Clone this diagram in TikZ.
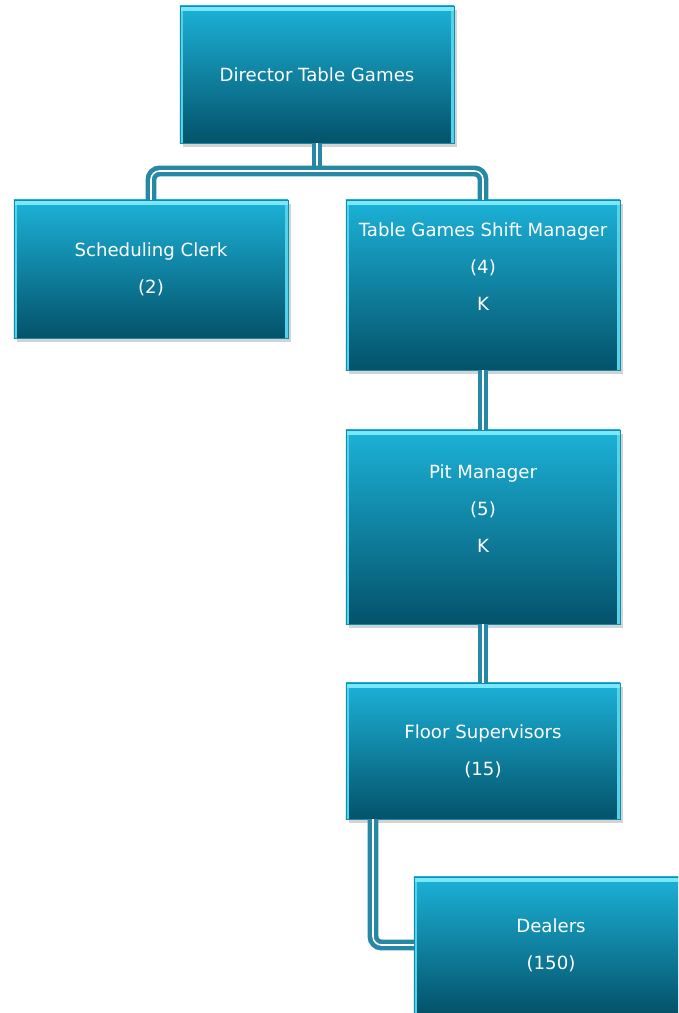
\documentclass[tikz,border=0pt]{standalone}
\usepackage{fontspec}
\setmainfont{DejaVu Sans}
\usepackage{tikz}
\usetikzlibrary{shadows}
\definecolor{boxtop}{RGB}{28,178,216}
\definecolor{boxbot}{RGB}{4,82,106}
\definecolor{boxrim}{RGB}{120,232,250}
\definecolor{connteal}{RGB}{38,136,164}
\tikzset{
  >=latex,
}
\tikzstyle{post}=[rectangle,draw=boxtop!60!boxbot,line width=0.3pt,
  top color=boxtop,bottom color=boxbot,text=white,align=center,
  inner sep=0pt,minimum width=6.85cm,
  font=\fontsize{12.9}{26.3}\selectfont,
  drop shadow={opacity=0.35,shadow xshift=2pt,shadow yshift=-3pt},
  path picture={
    \fill[boxrim] (path picture bounding box.north west) rectangle
      ([yshift=-3.5pt]path picture bounding box.north east);
    \fill[boxrim!60!boxtop] ([yshift=-3.5pt]path picture bounding box.north west) rectangle
      ([xshift=2.5pt]path picture bounding box.south west);
    \fill[boxrim!60!boxtop] ([yshift=-3.5pt]path picture bounding box.north east) rectangle
      ([xshift=-2.5pt]path picture bounding box.south east);}]
\tikzstyle{link}=[draw=connteal,double=white,double distance=1.1pt,
  line width=3.3pt,rounded corners=6pt]

\begin{document}
\begin{tikzpicture}[x=0.025cm,y=-0.025cm]
  \useasboundingbox (0,0) rectangle (678,1013);
  \clip (0,0) rectangle (678,1013);
  \node[post,minimum height=3.425cm] (director) at (317,74.5) {Director Table Games};
  \node[post,minimum height=3.45cm] (clerk) at (151,269) {Scheduling Clerk\\(2)};
  \node[post,minimum height=4.25cm] (shift) at (483,285) {Table Games Shift Manager\\(4)\\K\\ };
  \node[post,minimum height=4.85cm] (pit) at (483,527) {Pit Manager\\(5)\\K\\ };
  \node[post,minimum height=3.4cm] (floor) at (483,751) {Floor Supervisors\\(15)};
  \node[post,minimum height=3.4cm] (dealers) at (551,945) {Dealers\\(150)};
  \coordinate (split) at (317,171);
  \coordinate (drop) at (373,0);
  \draw[link] (director.south) -- (split);
  \draw[link] (clerk.north) |- (split) -| (shift.north);
  \draw[link] (shift.south) -- (pit.north);
  \draw[link] (pit.south) -- (floor.north);
  \draw[link] (floor.south -| drop) |- (dealers.west);
\end{tikzpicture}
\end{document}
